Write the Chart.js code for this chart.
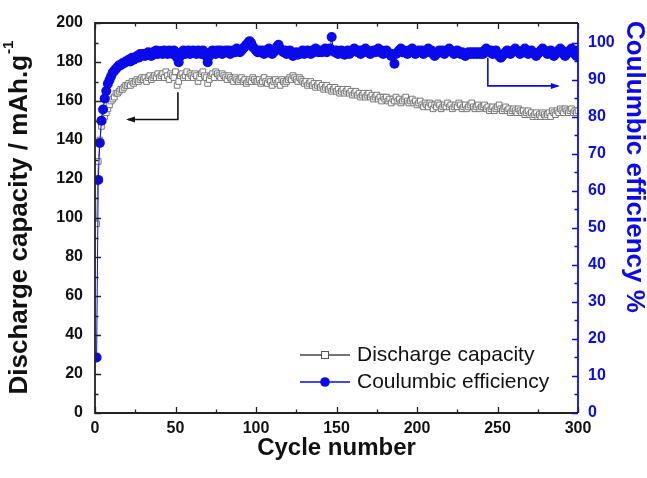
<!DOCTYPE html>
<html lang="en">
<head>
<meta charset="UTF-8">
<title>Discharge capacity / Coulumbic efficiency</title>
<script src="https://cdn.jsdelivr.net/npm/chart.js@4"></script>
<style>
  html, body { margin: 0; padding: 0; background: #fff; }
  #wrap { width: 647px; height: 478px; }
</style>
</head>
<body>
<div id="wrap"><canvas id="chart"></canvas></div>
<script>
// discharge capacity (mAh/g), one value per cycle 1..300
var capacity = [
  97,129,140,147,150,152,154,156,158,160,161,162,164,164,165,166,166,167,168,168,
  169,168,170,169,170,171,170,171,172,171,172,170,172,173,171,172,173,172,174,172,
  173,174,172,175,173,171,174,173,172,175,168,170,173,174,172,173,175,172,174,173,
  172,174,173,170,172,174,175,173,172,169,171,173,174,172,175,174,173,172,174,173,
  172,171,173,172,171,170,172,171,170,171,172,170,171,169,170,171,170,172,171,170,
  170,171,169,170,172,170,169,171,170,168,170,171,169,170,168,171,170,169,170,171,
  172,171,173,172,171,170,172,171,170,169,170,168,169,170,168,169,167,168,169,167,
  168,166,167,168,166,167,165,166,167,165,166,164,165,166,164,165,166,164,165,163,
  164,165,163,164,162,163,164,162,163,164,162,163,161,162,163,161,162,160,162,161,
  162,160,161,159,161,160,162,160,161,159,160,161,162,160,159,160,161,159,160,158,
  159,160,158,157,159,158,157,159,158,156,158,157,159,158,156,157,158,157,159,157,
  158,156,157,158,157,159,158,156,157,158,156,157,158,159,157,156,157,158,156,157,
  157,158,156,157,155,156,157,155,156,157,158,156,155,156,157,155,156,154,155,156,
  155,154,156,155,154,155,153,154,155,153,154,152,153,154,152,153,152,154,153,152,
  153,154,152,155,154,153,155,154,156,155,154,156,155,154,155,156,154,155,154,155
];

// coulumbic efficiency (%), one value per cycle 1..300
var efficiency = [
  15,63,73,79,82,85,87,89,90,91,92,92.5,93,93.5,94,94,94.5,94.5,95,95,
  95.5,95,96,95.5,96,96.5,96,97,96.5,97,96.5,97,97.5,97,96.5,97.5,97,98,97,97.5,
  97.8,97,98,97.5,97,98,97.5,97,98,97.5,96,94.8,96.5,97.5,98,97,97.5,98,97,97.5,
  98,97.5,97,98,97.5,97,98,97.5,96.5,94.8,96.5,97.5,98,97.5,97,98,97.5,98,97,97.5,
  98,97.5,98,97,97.5,98,97.5,98.5,98,97.5,98,98.5,99,99.5,100,100.5,100,99,98.5,98,
  97.5,98,97.5,98,97,98,97.5,98.5,98,97,97.5,98,99,99.5,98.5,98,97.5,98,97,97.5,
  98,97,96.5,97,97.5,96.8,97,97.5,98,97,97.5,98,97.5,97,98,97.5,98.5,98,97.5,98,
  97.5,98,98.5,97.5,98,98.5,101.6,98,97.5,98,97,97.5,98,97.5,96.8,97.5,98,97,97.5,98,
  98.5,98,97.5,98,97,98,97.5,98.5,98,97.5,97,97.5,98,97.5,98,98.5,97.5,98,97,97.5,
  98,97.5,97,96.5,97,94.4,97,97.5,98,98.5,97.5,98,97.5,97,98,97.5,98.5,98,97,97.5,
  98,97.5,98,97,97.5,98,98.5,97.5,98,97,96.5,97,97.5,98,97.5,98,97,97.5,98,98.5,
  98,97.5,97,97.5,98,97.5,97,97.5,97,96.5,97,97.5,97,97.5,97,97.5,97,97.5,97,97.5,
  97,98,98.5,98,97.5,98,97,97.5,98,97,96.5,96,96.5,97,97.5,98,97.5,97,97.5,98,
  98.5,98,97.5,97,97.5,98,98.5,98,97,97.5,98,97.5,97,96.5,97,97.5,98,98.5,98,97.5,
  97,97.5,98,97,96.5,97,97.5,98,98.5,98,97,96.5,97,97.5,98,98.5,97.5,97,96.5,98
];

var xTicks = [0, 50, 100, 150, 200, 250, 300];
var leftTicks = [0, 20, 40, 60, 80, 100, 120, 140, 160, 180, 200];
var rightTicks = [0, 10, 20, 30, 40, 50, 60, 70, 80, 90, 100];

var BLUE = 'rgb(10,10,235)';
var DARK = '#222';
var FONT = "'Liberation Sans', Arial, sans-serif";

var capPoints = capacity.map(function(v, i) { return {x: i + 1, y: v}; });
var cePoints = efficiency.map(function(v, i) { return {x: i + 1, y: v}; });

// the two arrows pointing to the axis of each series (data units)
var leftArrow = {x1: 51.5, yTop: 164.5, yBot: 150.5, x2: 20.5};
var rightArrow = {x1: 244, yTop: 96, yBot: 88.4, x2: 287.5};

function arrow(ctx, pts, color) {
    ctx.save();
    ctx.strokeStyle = color;
    ctx.fillStyle = color;
    ctx.lineWidth = 1.6;
    ctx.beginPath();
    ctx.moveTo(pts[0][0], pts[0][1]);
    for (var i = 1; i < pts.length; i++) ctx.lineTo(pts[i][0], pts[i][1]);
    ctx.stroke();
    var a = pts[pts.length - 2], b = pts[pts.length - 1];
    var dir = b[0] > a[0] ? 1 : -1;
    ctx.beginPath();
    ctx.moveTo(b[0] + dir * 2, b[1]);
    ctx.lineTo(b[0] - dir * 7, b[1] - 3);
    ctx.lineTo(b[0] - dir * 7, b[1] + 3);
    ctx.closePath();
    ctx.fill();
    ctx.restore();
}

function tickMarks(ctx, scale, values, from, dir, horizontal, color) {
    ctx.save();
    ctx.strokeStyle = color;
    ctx.lineWidth = 1.3;
    ctx.beginPath();
    function one(v, len) {
        var p = Math.round(scale.getPixelForValue(v)) + 0.5;
        if (horizontal) { ctx.moveTo(p, from); ctx.lineTo(p, from + dir * len); }
        else { ctx.moveTo(from, p); ctx.lineTo(from + dir * len, p); }
    }
    values.forEach(function(v) { one(v, 6); });
    // minor ticks halfway between the labelled ones
    for (var i = 0; i < values.length - 1; i++) one((values[i] + values[i + 1]) / 2, 3.5);
    ctx.stroke();
    ctx.restore();
}

var decorPlugin = {
    id: 'decor',
    afterDraw: function(chart) {
        var ctx = chart.ctx;
        var a = chart.chartArea;
        var xs = chart.scales.x, yl = chart.scales.y, yr = chart.scales.y2;

        // frame
        ctx.save();
        ctx.lineWidth = 1.8;
        ctx.strokeStyle = DARK;
        ctx.beginPath();
        ctx.moveTo(a.right, a.top); ctx.lineTo(a.left, a.top);
        ctx.lineTo(a.left, a.bottom); ctx.lineTo(a.right, a.bottom);
        ctx.stroke();
        ctx.strokeStyle = BLUE;
        ctx.beginPath();
        ctx.moveTo(a.right, a.top); ctx.lineTo(a.right, a.bottom);
        ctx.stroke();
        ctx.restore();

        // inward ticks
        tickMarks(ctx, xs, xTicks, a.bottom, -1, true, DARK);
        tickMarks(ctx, xs, xTicks, a.top, 1, true, DARK);
        tickMarks(ctx, yl, leftTicks, a.left, 1, false, DARK);
        tickMarks(ctx, yr, rightTicks, a.right, -1, false, BLUE);

        // arrows
        arrow(ctx, [
            [xs.getPixelForValue(leftArrow.x1), yl.getPixelForValue(leftArrow.yTop)],
            [xs.getPixelForValue(leftArrow.x1), yl.getPixelForValue(leftArrow.yBot)],
            [xs.getPixelForValue(leftArrow.x2), yl.getPixelForValue(leftArrow.yBot)]
        ], '#111');
        arrow(ctx, [
            [xs.getPixelForValue(rightArrow.x1), yr.getPixelForValue(rightArrow.yTop)],
            [xs.getPixelForValue(rightArrow.x1), yr.getPixelForValue(rightArrow.yBot)],
            [xs.getPixelForValue(rightArrow.x2), yr.getPixelForValue(rightArrow.yBot)]
        ], BLUE);

        // legend inside the plot
        ctx.save();
        var lx = a.left + 205, r1 = a.bottom - 58, r2 = a.bottom - 31;
        ctx.lineWidth = 1.3;
        ctx.strokeStyle = '#444';
        ctx.beginPath(); ctx.moveTo(lx, r1); ctx.lineTo(lx + 50, r1); ctx.stroke();
        ctx.fillStyle = '#fff';
        ctx.fillRect(lx + 21, r1 - 4, 8, 8);
        ctx.lineWidth = 1;
        ctx.strokeStyle = '#555';
        ctx.strokeRect(lx + 21.5, r1 - 3.5, 7, 7);
        ctx.strokeStyle = BLUE;
        ctx.lineWidth = 1.3;
        ctx.beginPath(); ctx.moveTo(lx, r2); ctx.lineTo(lx + 50, r2); ctx.stroke();
        ctx.fillStyle = BLUE;
        ctx.beginPath(); ctx.arc(lx + 25, r2, 4.8, 0, Math.PI * 2); ctx.fill();
        ctx.fillStyle = '#111';
        ctx.font = '21px ' + FONT;
        ctx.textBaseline = 'middle';
        ctx.fillText('Discharge capacity', lx + 57, r1);
        ctx.fillText('Coulumbic efficiency', lx + 57, r2);
        ctx.restore();

        // axis titles
        ctx.save();
        ctx.fillStyle = '#111';
        ctx.font = 'bold 24px ' + FONT;
        ctx.textAlign = 'center';
        ctx.textBaseline = 'middle';
        ctx.fillText('Cycle number', (a.left + a.right) / 2, 448);
        ctx.restore();

        ctx.save();
        ctx.translate(20, (a.top + a.bottom) / 2);
        ctx.rotate(-Math.PI / 2);
        ctx.fillStyle = '#111';
        ctx.textBaseline = 'middle';
        var main = 'Discharge capacity / mAh.g';
        ctx.font = 'bold 26px ' + FONT;
        var w1 = ctx.measureText(main).width;
        ctx.font = 'bold 15px ' + FONT;
        var w2 = ctx.measureText('-1').width;
        var start = -(w1 + w2) / 2;
        ctx.font = 'bold 26px ' + FONT;
        ctx.fillText(main, start, 0);
        ctx.font = 'bold 15px ' + FONT;
        ctx.fillText('-1', start + w1 + 1, -11);
        ctx.restore();

        ctx.save();
        ctx.translate(634, a.top - 2);
        ctx.rotate(Math.PI / 2);
        ctx.fillStyle = BLUE;
        ctx.font = 'bold 26px ' + FONT;
        ctx.textAlign = 'left';
        ctx.textBaseline = 'middle';
        ctx.fillText('Coulumbic efficiency %', 0, 0);
        ctx.restore();
    }
};

var ctx = document.getElementById('chart').getContext('2d');
var chart = new Chart(ctx, {
    type: 'line',
    data: {
        datasets: [
            {
                label: 'Coulumbic efficiency',
                data: cePoints,
                yAxisID: 'y2',
                borderColor: BLUE,
                backgroundColor: BLUE,
                borderWidth: 1,
                pointStyle: 'circle',
                pointRadius: 5,
                pointBorderWidth: 0,
                order: 1
            },
            {
                label: 'Discharge capacity',
                data: capPoints,
                yAxisID: 'y',
                borderColor: '#888',
                backgroundColor: '#fff',
                pointBorderColor: '#777',
                borderWidth: 1,
                pointStyle: 'rect',
                pointRadius: 4,
                pointBorderWidth: 1,
                order: 2
            }
        ]
    },
    options: {
        responsive: true,
        maintainAspectRatio: false,
        animation: false,
        layout: { padding: { top: 23, left: 0, right: 0, bottom: 0 } },
        plugins: {
            legend: { display: false },
            tooltip: { enabled: false }
        },
        scales: {
            x: {
                type: 'linear',
                min: 0,
                max: 300,
                afterBuildTicks: function(s) { s.ticks = xTicks.map(function(v) { return {value: v}; }); },
                afterFit: function(s) { s.height = 65; },
                grid: { display: false, drawTicks: false },
                border: { display: false },
                ticks: { color: '#111', padding: 6, maxRotation: 0, font: { family: FONT, weight: 'bold', size: 16 } }
            },
            y: {
                position: 'left',
                min: 0,
                max: 200,
                afterBuildTicks: function(s) { s.ticks = leftTicks.map(function(v) { return {value: v}; }); },
                afterFit: function(s) { s.width = 95; },
                grid: { display: false, drawTicks: false },
                border: { display: false },
                ticks: { color: '#111', padding: 12, font: { family: FONT, weight: 'bold', size: 16 } }
            },
            y2: {
                position: 'right',
                min: 0,
                max: 105.4,
                afterBuildTicks: function(s) { s.ticks = rightTicks.map(function(v) { return {value: v}; }); },
                afterFit: function(s) { s.width = 69; },
                grid: { display: false, drawTicks: false },
                border: { display: false },
                ticks: { color: BLUE, padding: 10, font: { family: FONT, weight: 'bold', size: 16 } }
            }
        }
    },
    plugins: [decorPlugin]
});
</script>
</body>
</html>
